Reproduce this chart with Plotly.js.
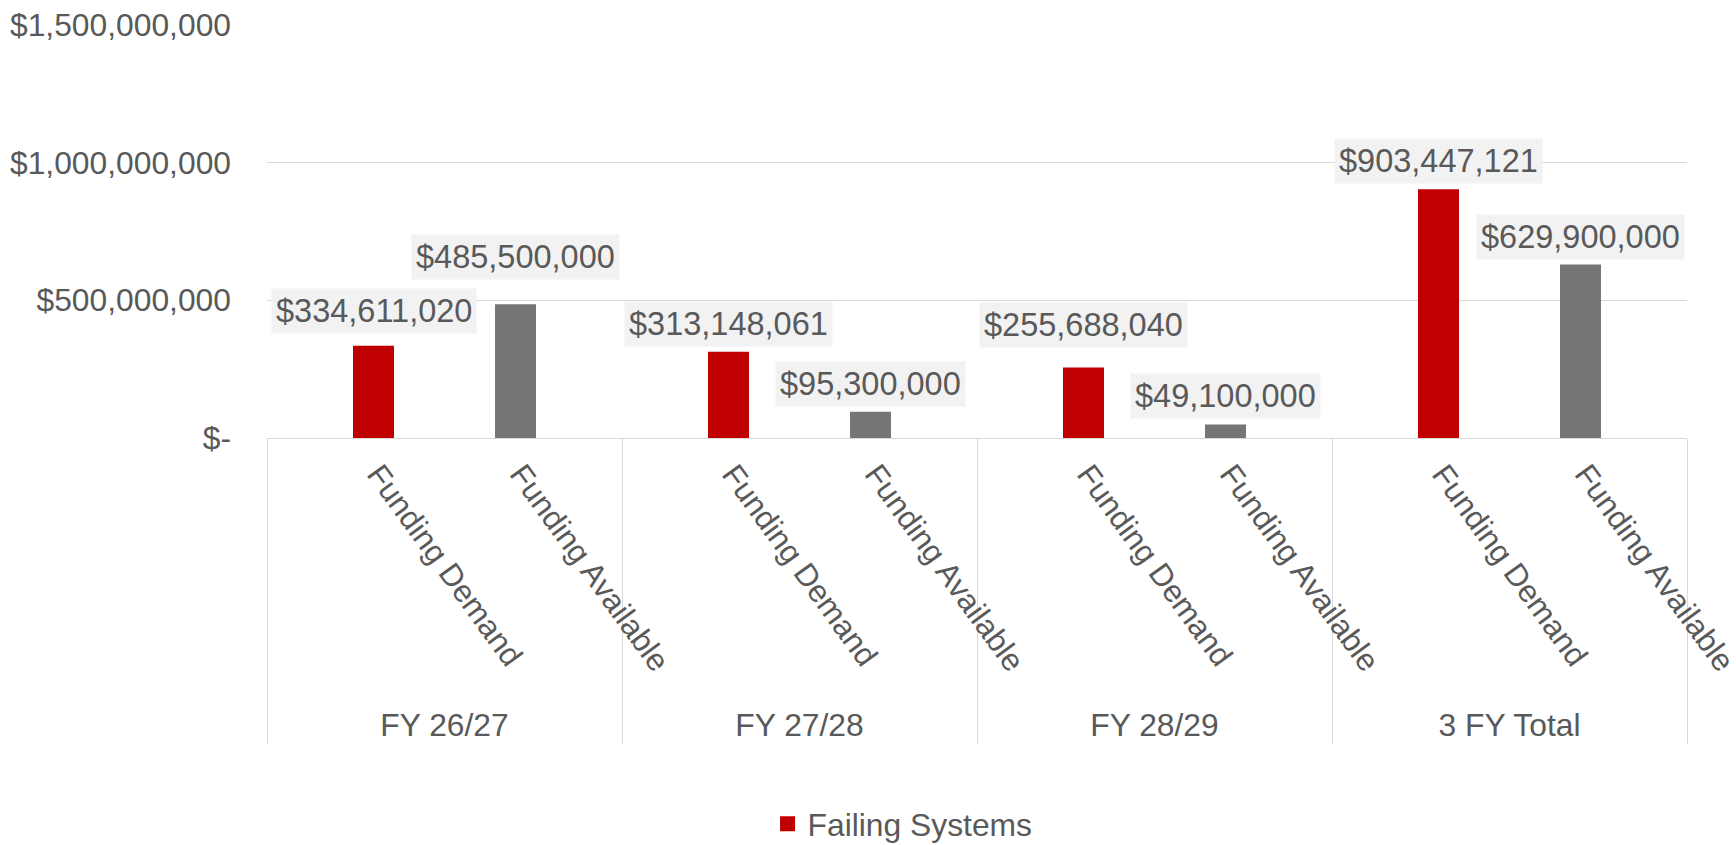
<!DOCTYPE html>
<html>
<head>
<meta charset="utf-8">
<script src="https://cdn.plot.ly/plotly-3.0.1.min.js"></script>
<style>html,body{margin:0;padding:0;background:#fff;}#chart{width:1736px;height:845px;}</style>
</head>
<body>
<div id="chart"></div>
<script>
// ---- data ----
const groups = ["FY 26/27", "FY 27/28", "FY 28/29", "3 FY Total"];
const subLabels = ["Funding Demand", "Funding Available"];
const demand = [334611020, 313148061, 255688040, 903447121];
const available = [485500000, 95300000, 49100000, 629900000];
const yTickVals = [0, 500000000, 1000000000, 1500000000];
const yTickText = ["$-", "$500,000,000", "$1,000,000,000", "$1,500,000,000"];
const seriesName = "Failing Systems";

// ---- style ----
const FONT = "Liberation Sans, Arial, sans-serif";
const FS = 31.8;
const ROT_FS = 31.3;
const LABEL_FS = 32.5;
const TXT = "#595959";
const GRID = "#d9d9d9";
const RED = "#c00000";
const GRAY = "#767676";
const BAR_OFFSET_PX = 71;
const demandLift = [34.5, 28, 42.6, 28];
const availableLift = [47, 28, 28, 28];

function money(v) { return "$" + v.toLocaleString("en-US"); }

const traces = [
  {type: "bar", name: seriesName, x: groups, y: demand, width: 0.1155,
   marker: {color: RED}, showlegend: false, hoverinfo: "skip"},
  {type: "bar", name: "Funding Available", x: groups, y: available, width: 0.1155,
   marker: {color: GRAY}, showlegend: false, hoverinfo: "skip"},
  // legend entry (square swatch as in the reference)
  {type: "scatter", mode: "markers", name: seriesName, x: [null], y: [null],
   marker: {symbol: "square", size: 15, color: RED}, showlegend: true, hoverinfo: "skip"}
];

const annotations = [];
groups.forEach((g, i) => {
  [[demand, demandLift, -1], [available, availableLift, 1]].forEach(([arr, lift, side], j) => {
    annotations.push({
      x: g, y: arr[i], xref: "x", yref: "y", showarrow: false,
      text: money(arr[i]), xshift: side * BAR_OFFSET_PX, yshift: lift[i],
      xanchor: "center", yanchor: "middle",
      bgcolor: "#f2f2f2", borderpad: 4,
      font: {family: FONT, size: LABEL_FS, color: TXT}
    });
    annotations.push({
      x: g, y: 0, xref: "x", yref: "y", showarrow: false,
      text: subLabels[j], textangle: 54,
      xshift: side * BAR_OFFSET_PX - 16, yshift: -17,
      xanchor: "left", yanchor: "top",
      font: {family: FONT, size: ROT_FS, color: TXT}
    });
  });
});

const layout = {
  width: 1736, height: 845,
  margin: {l: 267, r: 49, t: 25, b: 407, autoexpand: false},
  paper_bgcolor: "#ffffff", plot_bgcolor: "#ffffff",
  font: {family: FONT, size: FS, color: TXT},
  barmode: "group", bargap: 0.2, bargroupgap: 0,
  showlegend: true,
  legend: {orientation: "h", x: 0.3525, y: -0.935, xanchor: "left", yanchor: "middle",
           font: {family: FONT, size: FS, color: TXT}, bgcolor: "rgba(0,0,0,0)",
           borderwidth: 0},
  xaxis: {
    type: "category", categoryorder: "array", categoryarray: groups,
    range: [-0.5, groups.length - 0.5], autorange: false,
    showgrid: false, zeroline: false,
    showline: true, linecolor: GRID, linewidth: 1,
    tickson: "boundaries", ticks: "outside", ticklen: 305, tickcolor: GRID, tickwidth: 1,
    ticklabelstandoff: 259,
    tickfont: {family: FONT, size: FS, color: TXT}
  },
  yaxis: {
    range: [0, 1500000000], autorange: false, tickvals: yTickVals, ticktext: yTickText,
    showgrid: true, gridcolor: GRID, gridwidth: 1, zeroline: false,
    showline: false, ticks: "", ticklabelstandoff: 35,
    tickfont: {family: FONT, size: FS, color: TXT}
  },
  annotations: annotations
};

Plotly.newPlot("chart", traces, layout, {displayModeBar: false, staticPlot: true});
</script>
</body>
</html>
